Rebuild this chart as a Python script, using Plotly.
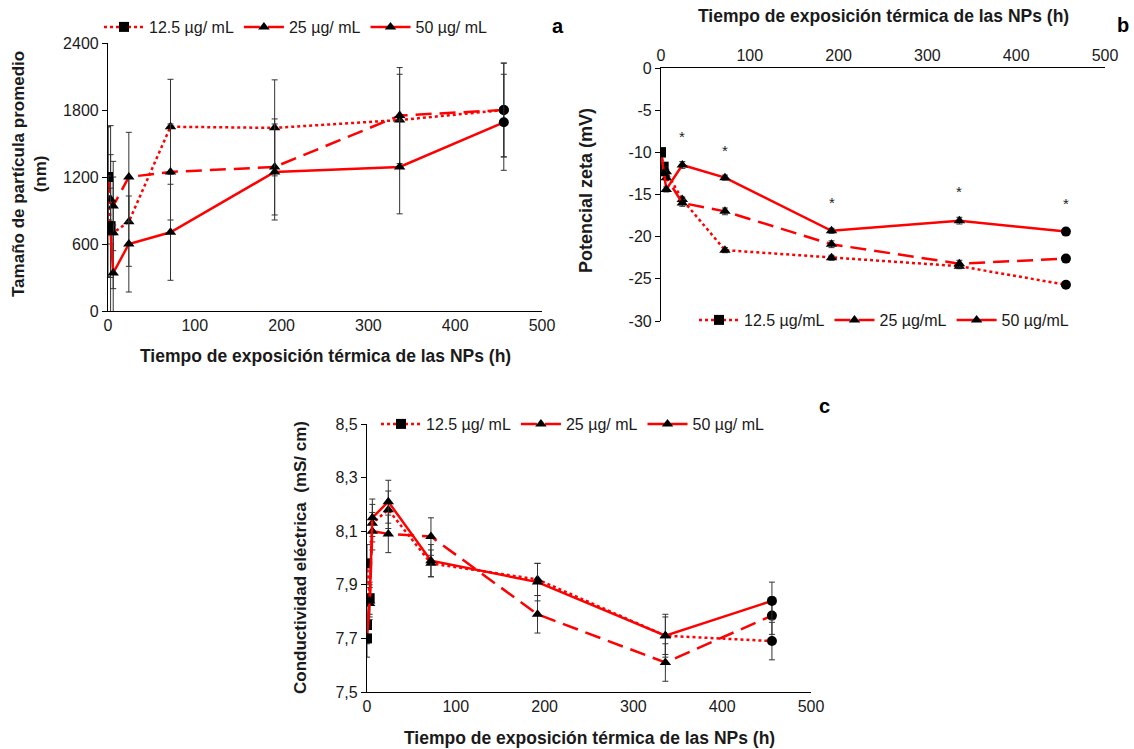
import plotly.graph_objects as go

# ---------------- data ----------------
times = [0, 3, 6, 24, 72, 192, 336, 456]
series_names_a = ["12.5 µg/ mL", "25 µg/ mL", "50 µg/ mL"]
series_names_b = ["12.5 µg/mL", "25 µg/mL", "50 µg/mL"]

# Panel a: particle size (nm)
size_125 = [1200, 760, 700, 800, 1650, 1640, 1710, 1800]
size_25 = [1200, 1000, 940, 1200, 1245, 1290, 1750, 1800]
size_50 = [760, 700, 340, 600, 705, 1245, 1290, 1690]
size_err_125 = [450, 900, 500, 400, 425, 430, 410, 420]
size_err_25 = [450, 400, 400, 400, 430, 430, 430, 420]
size_err_50 = [450, 400, 430, 430, 430, 430, 420, 430]

# Panel b: zeta potential (mV)
zeta_125 = [-10.0, -11.7, -12.3, -15.6, -21.6, -22.5, -23.5, -25.7]
zeta_25 = [-12.2, -12.0, -13.0, -16.0, -17.0, -20.9, -23.2, -22.6]
zeta_50 = [-10.0, -12.5, -14.4, -11.5, -13.0, -19.3, -18.1, -19.4]
zeta_err_125 = [0.3, 0.3, 0.3, 0.3, 0.3, 0.3, 0.3, 0.2]
zeta_err_25 = [0.3, 0.3, 0.3, 0.4, 0.4, 0.4, 0.4, 0.2]
zeta_err_50 = [0.3, 0.3, 0.3, 0.4, 0.3, 0.3, 0.4, 0.2]
star_times = [24, 72, 192, 336, 456]
star_values = [-8.1, -9.8, -16.0, -14.7, -16.1]

# Panel c: conductivity (mS/cm)
cond_125 = [7.98, 7.85, 8.13, 8.18, 7.98, 7.92, 7.71, 7.69]
cond_25 = [7.75, 7.83, 8.10, 8.09, 8.08, 7.79, 7.61, 7.785]
cond_50 = [7.70, 7.84, 8.15, 8.21, 7.99, 7.91, 7.71, 7.84]
cond_err_125 = [0.07, 0.06, 0.07, 0.07, 0.05, 0.06, 0.07, 0.07]
cond_err_25 = [0.07, 0.06, 0.07, 0.07, 0.07, 0.07, 0.07, 0.07]
cond_err_50 = [0.07, 0.06, 0.07, 0.08, 0.06, 0.07, 0.08, 0.07]

x_ticks = [0, 100, 200, 300, 400, 500]
a_yticks = [0, 600, 1200, 1800, 2400]
b_yticks = [0, -5, -10, -15, -20, -25, -30]
b_yticktext = ["0", "-5", "-10", "-15", "-20", "-25", "-30"]
c_yticks = [7.5, 7.7, 7.9, 8.1, 8.3, 8.5]
c_yticktext = ["7,5", "7,7", "7,9", "8,1", "8,3", "8,5"]

# ---------------- styles ----------------
W, H = 1134, 749
RED = "#FF0000"
FONT = "Liberation Sans, Arial, sans-serif"
dashes = ["dot", "16px,8px", "solid"]
legend_symbols = ["square", "triangle-up", "triangle-up"]


def px_x(p):
    return p / W


def px_y(p):
    return 1 - p / H


def symbols(n, first_square):
    s = ["triangle-up"] * n
    if first_square:
        s[0] = "square"
    s[-1] = "circle"
    return s


fig = go.Figure()

panels = [
    ("x", "y", [size_125, size_25, size_50], [size_err_125, size_err_25, size_err_50], "legend", series_names_a),
    ("x2", "y2", [zeta_125, zeta_25, zeta_50], [zeta_err_125, zeta_err_25, zeta_err_50], "legend2", series_names_b),
    ("x3", "y3", [cond_125, cond_25, cond_50], [cond_err_125, cond_err_25, cond_err_50], "legend3", series_names_a),
]

for xa, ya, vals, errs, leg, names in panels:
    for i in range(3):
        sym = symbols(len(times), True)
        if i == 0:
            sym[1] = "square"
        fig.add_trace(go.Scatter(
            x=times, y=vals[i], xaxis=xa, yaxis=ya, mode="lines+markers",
            line=dict(color=RED, width=2.5, dash=dashes[i]),
            marker=dict(color="black", size=10, symbol=sym),
            error_y=dict(type="data", array=errs[i], color="#333333", thickness=1, width=3),
            showlegend=False, hoverinfo="skip"))
    for i in range(3):
        fig.add_trace(go.Scatter(
            x=[None], y=[None], xaxis=xa, yaxis=ya, mode="lines+markers", name=names[i],
            line=dict(color=RED, width=2.5, dash=dashes[i]),
            marker=dict(color="black", size=10, symbol=legend_symbols[i]),
            legend=leg, showlegend=True))

# asterisks in panel b
for t, v in zip(star_times, star_values):
    fig.add_annotation(x=t, y=v, xref="x2", yref="y2", text="*", showarrow=False,
                       font=dict(size=15, color="#222", family=FONT))

tickfont = dict(size=16, family=FONT, color="#1a1a1a")
xaxis_common = dict(showgrid=False, zeroline=False, showline=True, linecolor="black", linewidth=1.2,
                    ticks="", tickfont=tickfont, automargin=False)
yaxis_common = dict(showgrid=False, zeroline=False, showline=True, linecolor="black", linewidth=1.2,
                    ticks="outside", ticklen=5, tickcolor="black", tickfont=tickfont, automargin=False)

fig.update_layout(
    width=W, height=H, plot_bgcolor="white", paper_bgcolor="white",
    margin=dict(l=0, r=0, t=0, b=0, pad=0, autoexpand=False),
    font=dict(family=FONT, color="#1a1a1a"),
    xaxis=dict(domain=[px_x(108), px_x(542)], range=[0, 500], tickvals=x_ticks, anchor="y", **xaxis_common),
    yaxis=dict(domain=[px_y(311), px_y(43)], range=[0, 2400], tickvals=a_yticks, anchor="x", **yaxis_common),
    xaxis2=dict(domain=[px_x(661), px_x(1105)], range=[0, 500], tickvals=x_ticks, anchor="y2", side="top", **xaxis_common),
    yaxis2=dict(domain=[px_y(321), px_y(68)], range=[-30, 0], tickvals=b_yticks, ticktext=b_yticktext, anchor="x2", **yaxis_common),
    xaxis3=dict(domain=[px_x(367), px_x(811)], range=[0, 500], tickvals=x_ticks, anchor="y3", **xaxis_common),
    yaxis3=dict(domain=[px_y(692), px_y(424)], range=[7.5, 8.5], tickvals=c_yticks, ticktext=c_yticktext, anchor="x3", **yaxis_common),
    legend=dict(orientation="h", x=px_x(99), y=px_y(27), xanchor="left", yanchor="middle",
                font=dict(size=16, family=FONT), bgcolor="rgba(0,0,0,0)", itemwidth=40),
    legend2=dict(orientation="h", x=px_x(694), y=px_y(320), xanchor="left", yanchor="middle",
                 font=dict(size=16, family=FONT), bgcolor="rgba(0,0,0,0)", itemwidth=40),
    legend3=dict(orientation="h", x=px_x(376), y=px_y(424), xanchor="left", yanchor="middle",
                 font=dict(size=16, family=FONT), bgcolor="rgba(0,0,0,0)", itemwidth=40),
)

ann = [
    (px_x(325), px_y(356), "<b>Tiempo de exposición térmica de las NPs (h)</b>", 0, 17.5),
    (px_x(29), px_y(174), "<b>Tamaño de partícula promedio<br>(nm)</b>", -90, 17),
    (px_x(883), px_y(16), "<b>Tiempo de exposición térmica de las NPs (h)</b>", 0, 17.5),
    (px_x(586), px_y(191), "<b>Potencial zeta (mV)</b>", -90, 18),
    (px_x(300), px_y(558), "<b>Conductividad eléctrica  (mS/ cm)</b>", -90, 17),
    (px_x(589), px_y(738), "<b>Tiempo de exposición térmica de las NPs (h)</b>", 0, 17.5),
]
for x, y, t, ang, fs in ann:
    fig.add_annotation(x=x, y=y, xref="paper", yref="paper", text=t, textangle=ang,
                       showarrow=False, font=dict(size=fs, family=FONT, color="#1a1a1a"),
                       xanchor="center", yanchor="middle")

for x, y, t in [(558, 26, "a"), (1123, 25, "b"), (824, 406, "c")]:
    fig.add_annotation(x=px_x(x), y=px_y(y), xref="paper", yref="paper", text="<b>" + t + "</b>",
                       showarrow=False, font=dict(size=20, family=FONT, color="black"),
                       xanchor="center", yanchor="middle")

fig.write_html(
    "out.html",
    config={"displayModeBar": False},
    post_script="document.documentElement.style.margin='0';document.body.style.margin='0';"
                "document.body.style.padding='0';document.body.style.overflow='hidden';",
)
